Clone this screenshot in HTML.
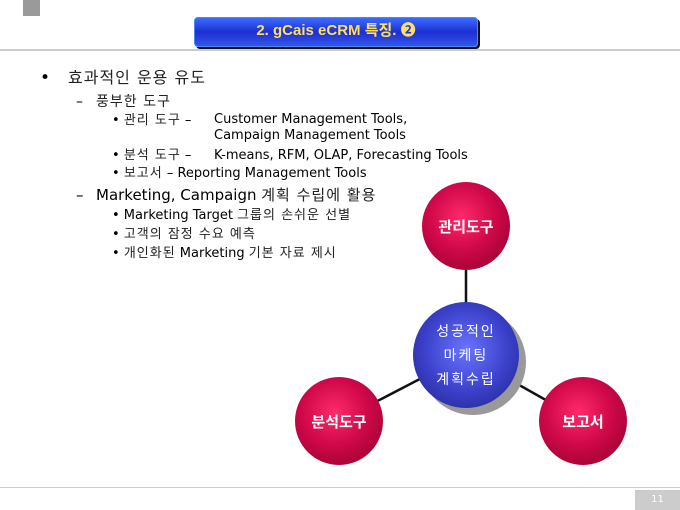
<!DOCTYPE html>
<html><head><meta charset="utf-8"><style>
body{margin:0;width:680px;height:510px;position:relative;background:#fff;overflow:hidden;font-family:"DejaVu Sans","Noto Sans CJK KR",sans-serif;color:#000}
.t{position:absolute;white-space:nowrap;line-height:18px}
.k{letter-spacing:1px;color:#222}
.c{position:absolute;border-radius:50%;display:flex;align-items:center;justify-content:center;color:#fff;font-weight:bold;font-size:15px;font-family:"Noto Sans CJK KR",sans-serif}
.red{background:radial-gradient(circle at 45% 40%,#ff2a6a 0%,#d0084a 45%,#8a0028 100%)}
</style></head><body>
<div style="position:absolute;left:23px;top:0;width:17px;height:16px;background:#9a9a9a"></div>
<div style="position:absolute;left:194px;top:17px;width:282px;height:28px;border-radius:4px;background:linear-gradient(#3a6cff,#1d2fd0 50%,#3355ee);box-shadow:2px 2px 0 #111;border:1px solid #4a86ff"></div>
<div class="t" style="left:194px;top:22px;width:284px;text-align:center;color:#ffe060;font-size:15px;font-weight:bold;font-family:'Liberation Sans Narrow','Liberation Sans','Noto Sans CJK KR',sans-serif">2. gCais eCRM 특징. ❷</div>
<div style="position:absolute;left:0;top:49px;width:680px;height:2px;background:#ccc"></div>
<div class="t" style="left:40px;top:69px;font-size:17px">•</div>
<div class="t k" style="left:68px;top:69px;font-size:16px">효과적인 운용 유도</div>
<div class="t" style="left:76px;top:93px;font-size:14px">–</div>
<div class="t k" style="left:96px;top:93px;font-size:14px">풍부한 도구</div>
<div class="t" style="left:112px;top:112px;font-size:13px">• <span class="k">관리 도구</span> –</div>
<div class="t" style="left:214px;top:112px;font-size:13px;line-height:16px">Customer Management Tools,<br>Campaign Management Tools</div>
<div class="t" style="left:112px;top:147px;font-size:13px">• <span class="k">분석 도구</span> –</div>
<div class="t" style="left:214px;top:147px;font-size:13px">K-means, RFM, OLAP, Forecasting Tools</div>
<div class="t" style="left:112px;top:165px;font-size:13px">• <span class="k">보고서</span> – Reporting Management Tools</div>
<div class="t" style="left:76px;top:186px;font-size:15px">–</div>
<div class="t" style="left:96px;top:186px;font-size:15px">Marketing, Campaign <span class="k">계획 수립에 활용</span></div>
<div class="t" style="left:112px;top:207px;font-size:13px">• Marketing Target <span class="k">그룹의 손쉬운 선별</span></div>
<div class="t" style="left:112px;top:226px;font-size:13px">• <span class="k">고객의 잠정 수요 예측</span></div>
<div class="t" style="left:112px;top:245px;font-size:13px">• <span class="k">개인화된</span> Marketing <span class="k">기본 자료 제시</span></div>
<svg style="position:absolute;left:0;top:0" width="680" height="510"><g stroke="#111" stroke-width="2.5"><line x1="466" y1="226" x2="466" y2="355"/><line x1="339" y1="421" x2="466" y2="355"/><line x1="583" y1="421" x2="466" y2="355"/></g></svg>
<div class="c red" style="left:422px;top:182px;width:88px;height:88px">관리도구</div>
<div class="c red" style="left:295px;top:377px;width:88px;height:88px">분석도구</div>
<div class="c red" style="left:539px;top:377px;width:88px;height:88px">보고서</div>
<div style="position:absolute;left:420px;top:309px;width:106px;height:106px;border-radius:50%;background:#999"></div>
<div class="c" style="left:413px;top:302px;width:106px;height:106px;background:radial-gradient(circle at 50% 45%,#6a74ff 0%,#3a3fc8 55%,#1e2280 100%);font-weight:normal;font-size:14px;line-height:24px;text-align:center;letter-spacing:2px">성공적인<br>마케팅<br>계획수립</div>
<div style="position:absolute;left:0;top:487px;width:680px;height:1px;background:#ccc"></div>
<div class="t" style="left:635px;top:490px;width:45px;height:20px;background:#ccc;color:#fff;font-size:10px;text-align:center;line-height:20px">11</div>
</body></html>
